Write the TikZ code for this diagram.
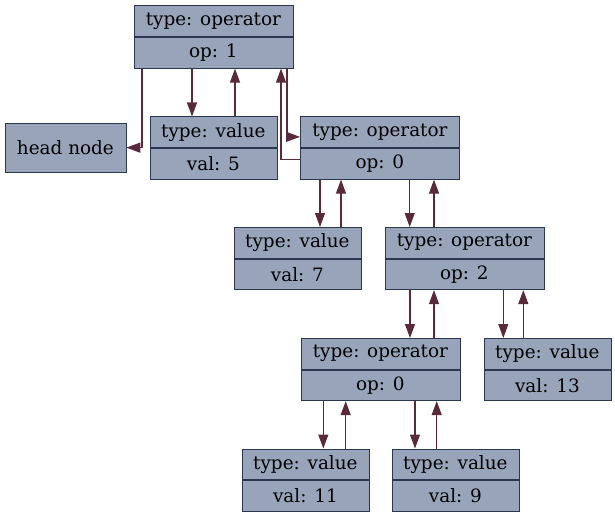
\documentclass[tikz,border=0pt]{standalone}
\usepackage{fontspec}
\setmainfont{DejaVu Serif}
\usetikzlibrary{arrows.meta}
\definecolor{recfill}{HTML}{98A4BA}
\definecolor{recline}{HTML}{2B3650}
\definecolor{edgecol}{HTML}{5A2A3C}
\begin{document}
\begin{tikzpicture}[x=1pt,y=-1pt,
  cell/.style={draw=recline,fill=recfill,line width=0.8pt,inner sep=0pt,anchor=north west,minimum height=30.75pt,font=\fontsize{18.4}{22}\selectfont},
  wide/.style={cell,minimum width=159pt},
  narrow/.style={cell,minimum width=127pt},
  edge/.style={draw=edgecol,line width=1.1pt,-{Triangle[length=14pt,width=10pt]}}]
\useasboundingbox (0,0) rectangle (615,516);
\node[cell,minimum width=121pt,minimum height=48.5pt] (head) at (4.5,123) {head node};
\node[wide] (op1t) at (133.5,5.5) {type: operator};
\node[wide] (op1b) at (op1t.south west) {op: 1};
\node[narrow] (val5t) at (149.5,116.5) {type: value};
\node[narrow] (val5b) at (val5t.south west) {val: 5};
\node[wide] (op0at) at (300,116.5) {type: operator};
\node[wide] (op0ab) at (op0at.south west) {op: 0};
\node[narrow] (val7t) at (233.5,227) {type: value};
\node[narrow] (val7b) at (val7t.south west) {val: 7};
\node[wide] (op2t) at (384.5,227) {type: operator};
\node[wide] (op2b) at (op2t.south west) {op: 2};
\node[wide] (op0bt) at (300.5,338) {type: operator};
\node[wide] (op0bb) at (op0bt.south west) {op: 0};
\node[narrow] (val13t) at (483.5,338) {type: value};
\node[narrow] (val13b) at (val13t.south west) {val: 13};
\node[narrow] (val11t) at (241.5,448.5) {type: value};
\node[narrow] (val11b) at (val11t.south west) {val: 11};
\node[narrow] (val9t) at (391.5,448.5) {type: value};
\node[narrow] (val9b) at (val9t.south west) {val: 9};
\draw[edge] ([xshift=8.5pt]op1b.south west) |- (head.east);
\draw[edge] ([xshift=58.5pt]op1b.south west) -- ([xshift=58.5pt]op1b.south west |- val5t.north);
\draw[edge] ([xshift=85.5pt]val5t.north west) -- ([xshift=85.5pt]val5t.north west |- op1b.south);
\draw[edge] ([xshift=153.5pt]op1b.south west) |- ([yshift=-4.6pt]op0at.west);
\draw[edge] ([yshift=4.5pt]op0ab.west) -| ([xshift=147.5pt]op1b.south west);
\draw[edge] ([xshift=20pt]op0ab.south west) -- ([xshift=20pt]op0ab.south west |- val7t.north);
\draw[edge] ([xshift=107.5pt]val7t.north west) -- ([xshift=107.5pt]val7t.north west |- op0ab.south);
\draw[edge] ([xshift=109.7pt]op0ab.south west) -- ([xshift=109.7pt]op0ab.south west |- op2t.north);
\draw[edge] ([xshift=49.5pt]op2t.north west) -- ([xshift=49.5pt]op2t.north west |- op0ab.south);
\draw[edge] ([xshift=25.5pt]op2b.south west) -- ([xshift=25.5pt]op2b.south west |- op0bt.north);
\draw[edge] ([xshift=133.5pt]op0bt.north west) -- ([xshift=133.5pt]op0bt.north west |- op2b.south);
\draw[edge] ([xshift=118.8pt]op2b.south west) -- ([xshift=118.8pt]op2b.south west |- val13t.north);
\draw[edge] ([xshift=39.8pt]val13t.north west) -- ([xshift=39.8pt]val13t.north west |- op2b.south);
\draw[edge] ([xshift=22.8pt]op0bb.south west) -- ([xshift=22.8pt]op0bb.south west |- val11t.north);
\draw[edge] ([xshift=104.2pt]val11t.north west) -- ([xshift=104.2pt]val11t.north west |- op0bb.south);
\draw[edge] ([xshift=114.5pt]op0bb.south west) -- ([xshift=114.5pt]op0bb.south west |- val9t.north);
\draw[edge] ([xshift=45.2pt]val9t.north west) -- ([xshift=45.2pt]val9t.north west |- op0bb.south);
\end{tikzpicture}
\end{document}
